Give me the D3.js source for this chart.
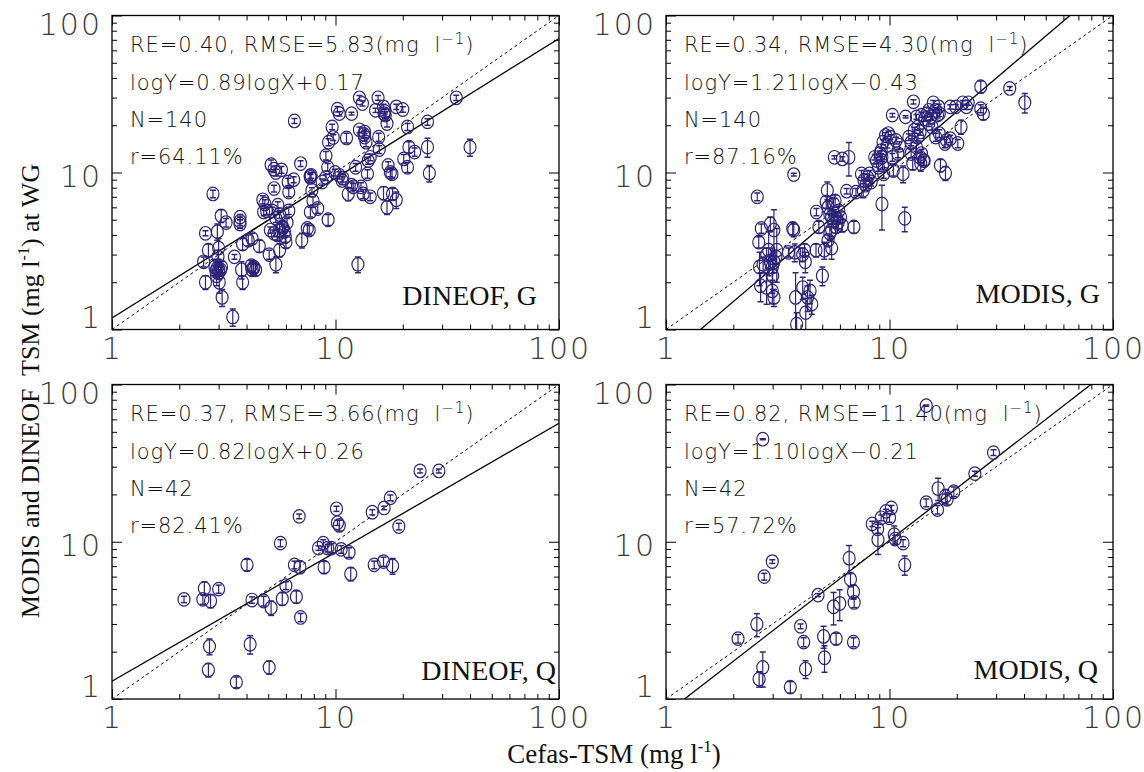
<!DOCTYPE html>
<html>
<head>
<meta charset="utf-8">
<script src="https://cdn.jsdelivr.net/npm/d3@7"></script>
<style>
  body { margin: 0; background: #ffffff; }
  svg { display: block; }
  text { white-space: pre; }
</style>
</head>
<body>
<svg id="chart" width="1144" height="772"></svg>
<script>
// Satellite TSM vs in-situ Cefas TSM, log-log, four comparisons.
// Each point: [Cefas TSM, satellite TSM, error half-width] in mg/l.

const dineofG = [
  [2.83,7.3,0.4],[3.08,5.3,0.5],[3.24,4.8,0.3],[2.62,4.1,0.15],[2.96,4.2,0.5],
  [3.74,5.2,0.2],[3.74,4.9,0.3],[3.74,4.7,0.3],[2.70,3.2,0.3],[3.00,3.3,0.5],
  [2.98,2.9,0.3],[2.57,2.7,0.2],[2.89,2.5,0.3],[3.00,2.4,0.3],[3.06,2.4,0.2],
  [2.94,2.2,0.3],[3.09,2.5,0.2],[2.92,2.35,0.2],[2.62,2.0,0.2],[3.02,2.0,0.3],
  [3.11,1.6,0.2],[3.47,1.2,0.15],[3.53,2.9,0.1],[3.84,3.5,0.3],[3.80,2.4,0.3],
  [3.84,2.0,0.2],[4.07,3.7,0.3],[4.23,3.8,0.3],[4.31,2.5,0.2],[4.23,2.4,0.2],
  [4.39,2.4,0.2],[4.20,2.55,0.2],[4.56,3.4,0.3],[5.05,3.0,0.2],[4.73,6.7,0.4],
  [4.83,6.3,0.4],[4.92,5.7,0.3],[4.77,5.6,0.3],[5.15,11.2,0.8],[5.31,10.5,0.5],
  [5.41,10.0,0.5],[5.73,10.4,0.5],[5.31,7.9,0.4],[5.21,5.7,0.3],[5.41,5.1,0.3],
  [5.62,5.4,0.3],[5.52,6.2,0.3],[5.11,4.3,0.2],[5.31,4.1,0.2],[5.62,4.3,0.4],
  [5.80,4.5,0.4],[5.91,4.2,0.3],[5.96,3.9,0.3],[6.07,4.8,0.3],[6.00,3.6,0.3],
  [5.62,3.2,0.3],[5.41,2.6,0.3],[6.14,8.7,0.5],[6.18,7.5,0.5],[6.50,9.0,0.4],
  [6.18,5.7,0.3],[6.55,21.3,0.8],[6.98,11.4,0.5],[7.07,3.7,0.4],[7.48,4.4,0.3],
  [7.63,4.3,0.3],[7.78,9.6,0.4],[7.72,9.3,0.4],[7.84,7.7,0.3],[7.93,6.6,0.4],
  [7.72,5.6,0.4],[8.33,5.9,0.4],[8.71,8.7,0.4],[9.06,9.3,0.4],[9.27,5.0,0.4],
  [9.06,12.8,0.8],[9.23,10.8,0.6],[9.31,15.6,0.8],[9.66,19.5,0.8],[9.77,16.7,0.7],
  [10.2,25.3,1.0],[10.4,23.7,0.8],[11.8,23.7,0.5],[11.2,16.6,1.2],[9.96,10.0,0.5],
  [10.4,9.6,0.5],[10.7,8.9,0.5],[11.4,7.3,0.7],[11.8,8.3,0.4],[12.0,8.1,0.4],
  [12.3,10.8,0.6],[12.6,2.6,0.3],[12.8,29.9,1.0],[13.2,27.5,1.0],[12.8,18.7,0.8],
  [13.5,18.1,0.8],[13.5,16.8,1.0],[13.7,15.6,1.0],[13.0,8.1,0.5],[13.3,7.3,0.5],
  [13.9,9.8,0.6],[14.0,11.9,0.6],[14.3,12.5,0.6],[14.3,7.0,0.4],[15.1,24.9,0.8],
  [15.5,29.9,1.0],[15.6,16.8,1.0],[15.7,14.0,0.8],[16.4,26.2,1.0],[16.7,23.2,1.2],
  [17.0,20.5,1.0],[16.5,23.7,0.8],[16.4,7.4,0.7],[17.0,6.0,0.6],[17.2,11.1,0.6],
  [17.6,10.0,0.6],[17.9,9.8,0.6],[18.0,7.3,0.6],[18.7,6.7,0.8],[18.7,26.2,1.0],
  [20.0,25.2,1.0],[20.2,12.2,0.8],[21.0,10.8,0.8],[21.0,19.5,1.0],[21.3,14.5,1.2],
  [22.6,13.5,0.8],[25.8,21.0,1.0],[25.8,14.5,2.0],[26.3,9.9,1.2],[34.7,29.9,1.2],
  [40.0,14.5,1.8],[3.00,2.3,0.2],[2.95,2.45,0.2],[5.50,4.0,0.3],[5.80,4.4,0.3],
  [10.8,9.2,0.5],[13.4,17.5,0.8],[16.6,24.5,0.9],[4.30,2.45,0.2],[7.70,9.5,0.4]
];

const modisG = [
  [2.56,7.0,0.4],[3.73,9.7,0.2],[2.67,4.4,0.3],[2.93,4.7,0.5],[2.60,3.6,0.3],
  [3.04,4.3,1.5],[3.73,4.3,0.4],[3.69,4.4,0.4],[2.62,2.5,0.6],[2.72,2.6,0.3],
  [2.82,3.0,0.3],[2.88,3.2,1.0],[2.93,2.7,0.3],[2.99,2.5,0.8],[3.04,2.7,0.4],
  [3.10,2.9,0.3],[3.13,3.2,1.2],[2.65,1.9,0.4],[2.82,1.85,0.4],[2.99,1.76,0.3],
  [3.04,1.6,0.2],[3.53,3.1,0.2],[3.77,3.1,0.4],[4.17,3.2,0.3],[4.20,2.7,0.4],
  [4.09,3.0,0.3],[3.80,1.6,0.7],[4.09,1.85,0.3],[4.22,1.28,0.3],[4.30,1.6,0.3],
  [4.49,1.45,0.2],[4.41,1.76,0.3],[3.84,1.08,0.2],[4.71,5.6,0.3],[4.69,3.2,0.3],
  [5.01,2.2,0.3],[4.83,4.5,0.4],[5.11,3.2,0.4],[5.27,7.7,1.0],[5.21,6.5,0.6],
  [5.31,6.0,0.6],[5.41,5.4,0.5],[5.51,5.2,0.5],[5.61,6.3,0.5],[5.71,6.6,0.6],
  [5.51,4.3,0.4],[5.41,4.1,0.4],[5.31,3.7,0.3],[5.51,3.3,0.5],[5.61,4.9,0.4],
  [5.76,4.5,0.4],[5.82,5.1,0.4],[5.93,5.7,0.4],[6.04,5.2,0.4],[6.15,4.6,0.4],
  [5.67,12.5,0.3],[6.15,12.2,0.4],[6.58,12.5,3.0],[6.43,7.6,0.3],[6.93,4.5,0.4],
  [7.08,7.5,0.4],[7.49,9.8,0.5],[7.69,8.9,0.8],[7.83,8.3,0.6],[7.63,7.7,0.8],
  [7.98,9.3,0.5],[8.13,9.8,0.5],[8.28,8.7,0.5],[8.59,12.5,0.5],[8.75,11.9,0.5],
  [8.92,10.8,0.6],[9.08,13.2,0.5],[9.25,12.5,0.5],[9.18,13.8,0.6],[9.31,11.1,0.6],
  [9.42,9.8,0.6],[9.35,15.6,0.6],[9.60,17.2,0.7],[9.78,14.9,0.6],[9.89,17.7,0.7],
  [10.3,23.2,0.6],[10.1,16.8,0.6],[9.25,6.3,2.0],[10.3,12.5,0.7],[10.4,10.3,0.8],
  [10.7,16.0,0.8],[11.1,14.9,0.8],[10.9,13.2,0.8],[11.5,9.8,1.2],[11.8,22.6,0.4],
  [11.7,5.1,0.9],[12.2,16.8,0.8],[12.5,13.2,0.8],[12.7,11.4,1.0],[12.8,28.2,0.9],
  [13.2,22.6,0.8],[12.9,18.6,0.8],[13.4,16.8,0.9],[13.2,14.5,0.9],[13.7,12.5,0.9],
  [13.8,11.4,1.2],[13.9,13.2,0.8],[14.2,11.9,0.8],[14.3,11.9,0.8],[13.7,18.1,0.8],
  [13.4,19.5,0.8],[14.4,22.0,0.8],[13.9,23.2,0.8],[14.7,23.7,0.9],[15.0,24.9,0.9],
  [15.3,22.6,0.9],[15.7,27.8,1.0],[15.5,19.5,0.9],[16.1,24.9,1.0],[16.4,23.2,1.0],
  [16.6,26.2,1.0],[16.7,23.7,1.0],[16.1,16.8,1.0],[16.7,17.7,1.0],[16.9,11.1,1.0],
  [17.8,9.9,1.0],[17.7,15.3,0.9],[18.0,16.0,0.9],[18.7,16.4,0.9],[18.7,26.2,0.8],
  [19.8,26.2,0.9],[20.2,15.3,0.9],[20.9,19.5,2.0],[21.3,27.8,1.0],[22.1,26.2,1.0],
  [22.5,27.8,1.0],[25.6,35.2,3.0],[25.6,25.5,1.5],[26.3,23.7,2.0],[34.5,34.3,1.0],
  [40.3,27.9,4.0],[15.0,20.5,0.9],[5.90,4.8,0.4],[3.00,2.2,0.4],[12.5,15.6,0.8]
];

const dineofQ = [
  [2.10,4.30,0.2],[2.59,5.05,0.5],[2.55,4.30,0.3],[2.76,4.20,0.4],[3.00,5.00,0.3],
  [2.73,2.16,0.25],[2.70,1.53,0.15],[3.60,1.28,0.1],[4.02,7.13,0.6],[4.23,4.26,0.2],
  [4.15,2.23,0.3],[4.77,4.20,0.3],[5.15,3.80,0.4],[5.05,1.59,0.15],[5.67,9.80,0.5],
  [5.78,4.34,0.4],[6.00,5.26,0.3],[6.55,7.13,0.4],[6.68,4.47,0.4],[6.88,14.5,0.5],
  [6.93,6.89,0.6],[6.98,3.30,0.2],[8.39,9.11,0.3],[8.82,9.80,0.5],[8.89,6.89,0.6],
  [9.23,9.11,0.5],[9.59,9.11,0.6],[10.1,16.2,0.6],[10.2,13.2,0.5],[10.4,12.7,1.0],
  [10.6,8.95,0.5],[11.5,8.55,0.6],[11.7,6.24,0.6],[14.6,15.4,0.6],[14.9,7.13,0.4],
  [16.4,7.48,0.5],[16.5,16.4,0.4],[17.6,19.0,0.8],[18.0,7.02,0.8],[19.2,12.5,0.6],
  [23.9,28.2,0.8],[29.0,28.2,0.8]
];

const modisQ = [
  [2.10,2.42,0.15],[2.55,2.99,0.5],[2.61,1.34,0.15],[2.71,1.59,0.4],[2.75,6.0,0.3],
  [2.99,7.48,0.2],[2.71,44.9,0.3],[3.60,1.19,0.1],[4.00,2.90,0.1],[4.13,2.30,0.15],
  [4.21,1.55,0.2],[4.79,4.58,0.1],[5.07,2.50,0.4],[5.12,1.83,0.35],[5.62,3.86,0.9],
  [5.77,2.42,0.2],[5.99,4.05,0.9],[6.60,7.86,1.6],[6.69,5.77,0.6],[6.90,4.81,0.5],
  [6.95,4.11,0.3],[6.90,2.30,0.15],[8.37,13.0,0.5],[8.85,12.1,0.8],[8.88,10.3,2.0],
  [9.18,14.2,0.6],[9.64,15.6,0.5],[10.0,14.2,0.9],[10.2,16.4,0.6],[10.5,11.1,1.5],
  [10.6,10.4,0.6],[11.5,9.8,0.5],[11.7,7.13,1.0],[14.6,73.4,0.8],[14.6,17.7,1.0],
  [16.4,16.0,1.0],[16.5,21.8,3.5],[17.8,19.5,2.0],[18.1,18.6,1.5],[19.4,20.8,1.5],
  [24.1,27.1,1.0],[29.2,36.9,1.5]
];

// Panel labels and fit statistics (fit: ln Y = slope * ln X + intercept)
const panelNames     = ["DINEOF, G", "MODIS, G", "DINEOF, Q", "MODIS, Q"];
const reValues       = [0.40, 0.34, 0.37, 0.82];
const rmseValues     = [5.83, 4.30, 3.66, 11.40];
const fitSlopes      = [0.89, 1.21, 0.82, 1.10];
const fitIntercepts  = [0.17, -0.43, 0.26, -0.21];
const sampleCounts   = [140, 140, 42, 42];
const corrPercents   = [64.11, 87.16, 82.41, 57.72];

const majorTicks = [1, 10, 100];
const minorTicks = [2, 3, 4, 5, 6, 7, 8, 9, 20, 30, 40, 50, 60, 70, 80, 90];
const axisDomain = [1, 100];

const panelData = [dineofG, modisG, dineofQ, modisQ];

// ---- layout ----
const frames = [
  { x0: 112, x1: 559,  y0: 15.5,  y1: 329.5 },
  { x0: 666, x1: 1113, y0: 15.5,  y1: 329.5 },
  { x0: 112, x1: 559,  y0: 384.5, y1: 699 },
  { x0: 666, x1: 1113, y0: 384.5, y1: 699 }
];
const nameAnchors = [
  { x: 537, y: 305 }, { x: 1100, y: 303 }, { x: 556, y: 680 }, { x: 1098, y: 679 }
];

const ink = "#2d2479";
const thinFont = "'DejaVu Sans', 'Liberation Sans', sans-serif";
const serifFont = "'Liberation Serif', 'Times New Roman', serif";

const svg = d3.select("#chart");
const defs = svg.append("defs");

function styleTickText(sel) {
  sel.selectAll("text")
    .attr("fill", "#3a3a3a")
    .style("font-family", thinFont)
    .style("font-weight", "200")
    .style("font-size", "30px")
    .style("letter-spacing", "2px");
}

function tickAxis(axis, values, size) {
  return axis.tickValues(values).tickSizeInner(-size).tickSizeOuter(0);
}

frames.forEach((f, i) => {
  const x = d3.scaleLog().domain(axisDomain).range([f.x0, f.x1]);
  const y = d3.scaleLog().domain(axisDomain).range([f.y1, f.y0]);
  const g = svg.append("g");

  const clipId = "plot-clip-" + i;
  defs.append("clipPath").attr("id", clipId)
    .append("rect")
    .attr("x", f.x0).attr("y", f.y0)
    .attr("width", f.x1 - f.x0).attr("height", f.y1 - f.y0);

  // ---- axes: inward ticks on all four sides ----
  const axes = g.append("g").attr("color", "#000");
  const noDomain = s => s.select(".domain").remove();

  axes.append("g").attr("transform", `translate(0,${f.y1})`)
    .call(tickAxis(d3.axisBottom(x), majorTicks, 10).tickPadding(8).tickFormat(d3.format("d")))
    .call(noDomain).call(styleTickText);
  axes.append("g").attr("transform", `translate(0,${f.y1})`)
    .call(tickAxis(d3.axisBottom(x), minorTicks, 5).tickFormat(""))
    .call(noDomain);
  axes.append("g").attr("transform", `translate(0,${f.y0})`)
    .call(tickAxis(d3.axisTop(x), majorTicks, 10).tickFormat(""))
    .call(noDomain);
  axes.append("g").attr("transform", `translate(0,${f.y0})`)
    .call(tickAxis(d3.axisTop(x), minorTicks, 5).tickFormat(""))
    .call(noDomain);

  axes.append("g").attr("transform", `translate(${f.x0},0)`)
    .call(tickAxis(d3.axisLeft(y), majorTicks, 10).tickPadding(10).tickFormat(d3.format("d")))
    .call(noDomain).call(styleTickText)
    .call(s => s.selectAll("text").attr("y", d => d === 100 ? 9 : d === 10 ? 4 : -12));
  axes.append("g").attr("transform", `translate(${f.x0},0)`)
    .call(tickAxis(d3.axisLeft(y), minorTicks, 5).tickFormat(""))
    .call(noDomain);
  axes.append("g").attr("transform", `translate(${f.x1},0)`)
    .call(tickAxis(d3.axisRight(y), majorTicks, 10).tickFormat(""))
    .call(noDomain);
  axes.append("g").attr("transform", `translate(${f.x1},0)`)
    .call(tickAxis(d3.axisRight(y), minorTicks, 5).tickFormat(""))
    .call(noDomain);

  axes.selectAll(".tick line").attr("stroke-width", 1);

  // ---- statistics text ----
  const tx = f.x0 + 18;
  const ty = f.y0 + 36.8;
  const lineGap = 37.3;
  const stat = g.append("g")
    .attr("fill", "#111")
    .style("font-family", thinFont)
    .style("font-weight", "200")
    .style("font-size", "21px")
    .style("letter-spacing", "0.9px");

  const t0 = stat.append("text").attr("x", tx).attr("y", ty);
  t0.append("tspan").text(`RE=${reValues[i].toFixed(2)}, RMSE=${rmseValues[i].toFixed(2)}(mg  l`);
  t0.append("tspan").attr("dy", -8).style("font-size", "15px").text("\u22121");
  t0.append("tspan").attr("dy", 8).text(")");

  const b = fitIntercepts[i];
  stat.append("text").attr("x", tx).attr("y", ty + lineGap)
    .text(`logY=${fitSlopes[i].toFixed(2)}logX${b < 0 ? "\u2212" : "+"}${Math.abs(b).toFixed(2)}`);
  stat.append("text").attr("x", tx).attr("y", ty + 2 * lineGap)
    .text(`N=${sampleCounts[i]}`);
  stat.append("text").attr("x", tx).attr("y", ty + 3 * lineGap)
    .text(`r=${corrPercents[i].toFixed(2)}%`);

  // ---- panel name ----
  g.append("text")
    .attr("x", nameAnchors[i].x).attr("y", nameAnchors[i].y)
    .attr("text-anchor", "end")
    .attr("fill", "#111")
    .style("font-family", serifFont)
    .style("font-size", "28px")
    .text(panelNames[i]);

  // ---- reference and fit lines ----
  const lines = g.append("g").attr("clip-path", `url(#${clipId})`);
  const path = d3.line().x(d => x(d[0])).y(d => y(d[1]));

  lines.append("path")
    .datum(axisDomain.map(v => [v, v]))
    .attr("d", path)
    .attr("fill", "none").attr("stroke", "#000")
    .attr("stroke-width", 1).attr("stroke-dasharray", "3,3");

  const fitY = v => Math.exp(fitIntercepts[i]) * Math.pow(v, fitSlopes[i]);
  lines.append("path")
    .datum(axisDomain.map(v => [v, fitY(v)]))
    .attr("d", path)
    .attr("fill", "none").attr("stroke", "#000")
    .attr("stroke-width", 1.3);

  // ---- data points with error bars ----
  const pts = g.append("g")
    .attr("clip-path", `url(#${clipId})`)
    .attr("stroke", ink).attr("fill", "none").attr("stroke-width", 1.2);

  const pt = pts.selectAll("g.pt").data(panelData[i]).join("g").attr("class", "pt");
  pt.append("line")
    .attr("x1", d => x(d[0])).attr("x2", d => x(d[0]))
    .attr("y1", d => y(d[1] + d[2])).attr("y2", d => y(Math.max(d[1] - d[2], 0.5)));
  pt.append("line")
    .attr("x1", d => x(d[0]) - 3).attr("x2", d => x(d[0]) + 3)
    .attr("y1", d => y(d[1] + d[2])).attr("y2", d => y(d[1] + d[2]))
    .attr("stroke-width", 1.5);
  pt.append("line")
    .attr("x1", d => x(d[0]) - 3).attr("x2", d => x(d[0]) + 3)
    .attr("y1", d => y(Math.max(d[1] - d[2], 0.5))).attr("y2", d => y(Math.max(d[1] - d[2], 0.5)))
    .attr("stroke-width", 1.5);
  pt.append("ellipse")
    .attr("cx", d => x(d[0])).attr("cy", d => y(d[1]))
    .attr("rx", 6).attr("ry", 6.8);

  // ---- frame ----
  g.append("rect")
    .attr("x", f.x0).attr("y", f.y0)
    .attr("width", f.x1 - f.x0).attr("height", f.y1 - f.y0)
    .attr("fill", "none").attr("stroke", "#000").attr("stroke-width", 1.3);
});

// ---- axis titles ----
const xTitle = svg.append("text")
  .attr("x", 614).attr("y", 763)
  .attr("text-anchor", "middle")
  .attr("fill", "#111")
  .style("font-family", serifFont)
  .style("font-size", "27px");
xTitle.append("tspan").text("Cefas-TSM (mg l");
xTitle.append("tspan").attr("dy", -11).style("font-size", "17px").text("-1");
xTitle.append("tspan").attr("dy", 11).text(")");

const yTitle = svg.append("text")
  .attr("transform", "translate(39,391) rotate(-90)")
  .attr("text-anchor", "middle")
  .attr("fill", "#111")
  .style("font-family", serifFont)
  .style("font-size", "26px");
yTitle.append("tspan").text("MODIS and DINEOF  TSM (mg l");
yTitle.append("tspan").attr("dy", -10).style("font-size", "16px").text("-1");
yTitle.append("tspan").attr("dy", 10).text(") at WG");
</script>
</body>
</html>
